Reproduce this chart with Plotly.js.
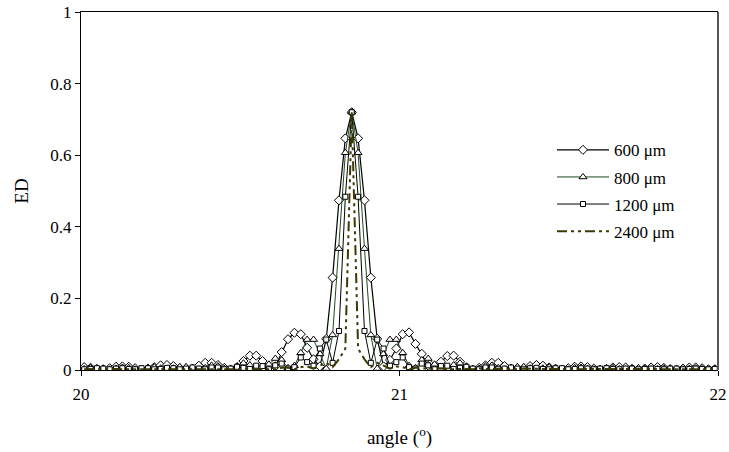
<!DOCTYPE html>
<html>
<head>
<meta charset="utf-8">
<script src="https://cdn.plot.ly/plotly-3.0.1.min.js"></script>
<style>html,body{margin:0;padding:0;background:#fff;}#chart{width:729px;height:452px;}</style>
</head>
<body>
<div id="chart"></div>
<script>
// angle (degrees)
var angle = [
20.01,20.03,20.05,20.07,20.09,20.11,20.13,20.15,20.17,20.19,
20.21,20.23,20.25,20.27,20.29,20.31,20.33,20.35,20.37,20.39,
20.41,20.43,20.45,20.47,20.49,20.51,20.53,20.55,20.57,20.59,
20.61,20.63,20.65,20.67,20.69,20.71,20.73,20.75,20.77,20.79,
20.81,20.83,20.85,20.87,20.89,20.91,20.93,20.95,20.97,20.99,
21.01,21.03,21.05,21.07,21.09,21.11,21.13,21.15,21.17,21.19,
21.21,21.23,21.25,21.27,21.29,21.31,21.33,21.35,21.37,21.39,
21.41,21.43,21.45,21.47,21.49,21.51,21.53,21.55,21.57,21.59,
21.61,21.63,21.65,21.67,21.69,21.71,21.73,21.75,21.77,21.79,
21.81,21.83,21.85,21.87,21.89,21.91,21.93,21.95,21.97,21.99];

var ed600 = [
0.008,0.006,0.002,0.002,0.005,0.009,0.010,0.009,0.005,0.001,
0.003,0.008,0.013,0.014,0.011,0.005,0.001,0.004,0.012,0.020,
0.020,0.014,0.006,0.001,0.008,0.025,0.040,0.040,0.025,0.008,
0.010,0.050,0.086,0.104,0.100,0.062,0.030,0.010,0.087,0.258,
0.474,0.647,
0.720,
0.647,0.474,0.258,0.087,0.010,0.028,0.060,0.100,0.105,0.073,
0.045,0.012,0.007,0.023,0.039,0.040,0.023,0.007,0.001,0.006,
0.013,0.020,0.020,0.011,0.004,0.001,0.005,0.011,0.014,0.012,
0.007,0.002,0.001,0.005,0.009,0.010,0.008,0.004,0.001,0.003,
0.007,0.008,0.007,0.003,0.001,0.004,0.007,0.008,0.006,0.002,
0.001,0.004,0.007,0.007,0.005,0.002,0.002];

var ed800 = [
0.003,0.006,0.006,0.004,0.002,0.004,0.007,0.006,0.002,0.003,
0.007,0.008,0.005,0.002,0.005,0.009,0.009,0.005,0.002,0.006,
0.013,0.011,0.004,0.003,0.010,0.019,0.014,0.004,0.003,0.016,
0.032,0.028,0.006,0.012,0.048,0.085,0.085,0.045,0.004,0.098,
0.339,0.607,
0.720,
0.607,0.339,0.098,0.004,0.045,0.085,0.085,0.048,0.012,0.006,
0.028,0.032,0.016,0.003,0.004,0.014,0.019,0.010,0.003,0.004,
0.011,0.013,0.006,0.002,0.005,0.009,0.009,0.005,0.002,0.005,
0.008,0.007,0.003,0.002,0.006,0.007,0.004,0.002,0.004,0.006,
0.006,0.003,0.002,0.005,0.006,0.004,0.002,0.003,0.005,0.005,
0.003,0.002,0.004,0.005,0.003,0.002,0.004];

var ed1200 = [
0.002,0.003,0.005,0.004,0.002,0.004,0.005,0.003,0.002,0.005,
0.005,0.002,0.003,0.006,0.005,0.002,0.004,0.007,0.004,0.002,
0.007,0.007,0.002,0.004,0.009,0.006,0.003,0.012,0.011,0.002,
0.013,0.018,0.004,0.008,0.035,0.022,0.012,0.060,0.085,0.020,
0.109,0.484,
0.720,
0.484,0.109,0.020,0.085,0.060,0.012,0.022,0.035,0.008,0.004,
0.018,0.013,0.002,0.011,0.012,0.003,0.006,0.009,0.004,0.002,
0.007,0.007,0.002,0.004,0.007,0.004,0.002,0.005,0.006,0.003,
0.002,0.005,0.005,0.002,0.003,0.005,0.004,0.002,0.004,0.005,
0.003,0.002,0.004,0.004,0.002,0.003,0.004,0.003,0.002,0.004,
0.004,0.002,0.003,0.004,0.003,0.002,0.003];

var ed2400 = [
0.002,0.003,0.003,0.002,0.003,0.003,0.002,0.002,0.003,0.003,
0.002,0.003,0.003,0.002,0.003,0.004,0.002,0.002,0.004,0.003,
0.003,0.002,0.004,0.003,0.002,0.003,0.004,0.003,0.002,0.004,
0.002,0.006,0.006,0.002,0.008,0.010,0.004,0.012,0.020,0.008,
0.030,0.060,
0.720,
0.060,0.030,0.008,0.020,0.012,0.004,0.010,0.008,0.002,0.006,
0.006,0.002,0.004,0.005,0.002,0.003,0.004,0.003,0.002,0.004,
0.003,0.002,0.003,0.004,0.002,0.002,0.004,0.003,0.002,0.003,
0.003,0.002,0.003,0.003,0.002,0.002,0.003,0.003,0.002,0.003,
0.003,0.002,0.002,0.003,0.002,0.002,0.003,0.002,0.002,0.003,
0.002,0.002,0.003,0.002,0.002,0.003,0.002];

var seriesNames = ["600 μm", "800 μm", "1200 μm", "2400 μm"];
var xTicks = [20, 21, 22];
var yTicks = [0, 0.2, 0.4, 0.6, 0.8, 1];
var yTickText = ["0", "0.2", "0.4", "0.6", "0.8", "1"];

var FONT = "Liberation Serif, Times New Roman, serif";

var traces = [
  {x: angle, y: ed600, name: seriesNames[0], legendgroup: "a", type: "scatter", mode: "lines+markers",
   line: {color: "#000000", width: 1.2},
   marker: {symbol: "diamond", size: 7, color: "#ffffff", line: {color: "#000000", width: 1}}},
  {x: angle, y: ed800, name: seriesNames[1], legendgroup: "b", type: "scatter", mode: "lines+markers",
   line: {color: "#1f4a1f", width: 1},
   marker: {symbol: "triangle-up", size: 7, color: "#ffffff", line: {color: "#000000", width: 1}}},
  {x: angle, y: ed1200, name: seriesNames[2], legendgroup: "c", type: "scatter", mode: "lines+markers",
   line: {color: "#000000", width: 1},
   marker: {symbol: "square", size: 5, color: "#ffffff", line: {color: "#000000", width: 1}}},
  {x: angle, y: ed2400, name: seriesNames[3], legendgroup: "d", type: "scatter", mode: "lines",
   line: {color: "#3a3a00", width: 2, dash: "10px,4px,3px,4px,3px,4px"}}
];

var layout = {
  width: 729, height: 452,
  margin: {l: 81, r: 11, t: 12, b: 82},
  paper_bgcolor: "#ffffff", plot_bgcolor: "#ffffff",
  font: {family: FONT, size: 17, color: "#000000"},
  showlegend: true,
  legend: {x: 0.7394, y: 0.664, xanchor: "left", yanchor: "top", bgcolor: "rgba(0,0,0,0)",
           font: {family: FONT, size: 17, color: "#000"}, itemwidth: 52,
           traceorder: "grouped", tracegroupgap: 2},
  xaxis: {range: [20, 22], tickvals: xTicks, ticktext: xTicks.map(String), ticks: "outside", ticklen: 5,
          tickcolor: "#000", showline: true, linecolor: "#000", linewidth: 1, mirror: true,
          showgrid: false, zeroline: false, ticklabelstandoff: 4,
          tickfont: {family: FONT, size: 17, color: "#000"},
          title: {text: "angle (<sup>o</sup>)", font: {family: FONT, size: 19, color: "#000"}, standoff: 27}},
  yaxis: {range: [0, 1], tickvals: yTicks, ticktext: yTickText, ticks: "outside", ticklen: 5,
          tickcolor: "#000", showline: true, linecolor: "#000", linewidth: 1, mirror: false,
          showgrid: false, zeroline: false,
          tickfont: {family: FONT, size: 17, color: "#000"},
          title: {text: "ED", font: {family: FONT, size: 19, color: "#000"}, standoff: 16}},
  shapes: [{type: "line", xref: "paper", yref: "paper", x0: 1, x1: 1, y0: 0, y1: 1,
            line: {color: "#555555", width: 2}}]
};

Plotly.newPlot("chart", traces, layout, {displayModeBar: false, staticPlot: true});
</script>
</body>
</html>
